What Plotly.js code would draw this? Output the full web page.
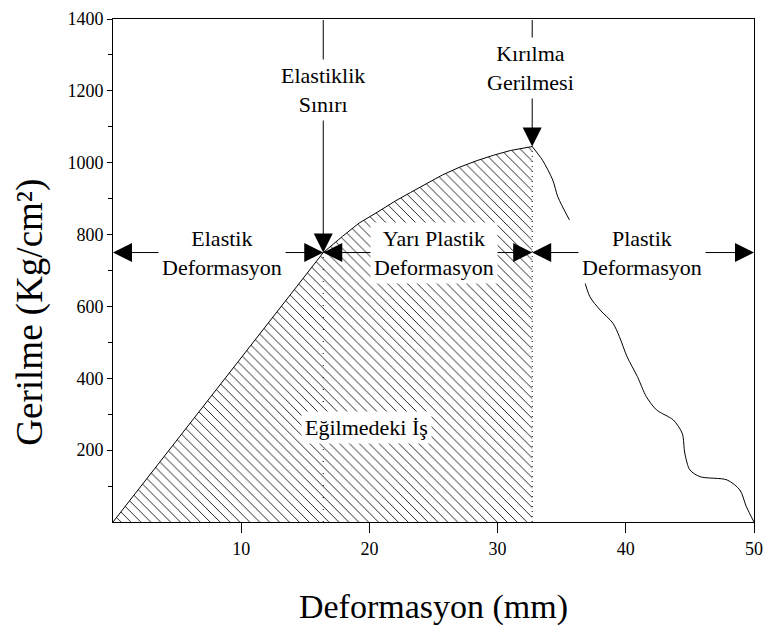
<!DOCTYPE html>
<html><head><meta charset="utf-8">
<script src="https://cdn.plot.ly/plotly-3.0.1.min.js"></script>
<style>html,body{margin:0;padding:0;background:#fff}</style>
</head><body><div id="chart" style="width:769px;height:640px"></div>
<script>
// Loading curve (hatched work area)
const loadStrain = [0, 16.4, 17.9, 19.2, 20.6, 22.0, 23.2, 24.5, 25.7, 27.0, 28.4, 29.7, 31.0, 32.7];
const loadStress = [0, 750, 795, 832, 862, 893, 917, 943, 966, 987, 1006, 1021, 1034, 1045];
// Post-fracture curve (two visible pieces, gap behind label)
const failStrainA = [32.7, 33.5, 34.3, 34.7, 35.6];
const failStressA = [1045, 1007, 952, 905, 841];
const failStrainB = [36.7, 37.2, 38.0, 39.0, 39.5, 40.1, 40.9, 41.6, 42.4, 43.7, 44.4, 44.6, 45.0, 45.8, 47.9, 48.9, 49.4, 50];
const failStressB = [681, 627, 590, 553, 516, 460, 405, 349, 312, 284, 247, 192, 145, 126, 117, 89, 43, 0];
// Key points
const elasticStrain = 16.4, elasticStress = 750;
const breakStrain = 32.7, breakStress = 1045;
const maxStrain = 50, maxStress = 1400;
// Ticks
const xTicks = [10, 20, 30, 40, 50];
const yTicks = [200, 400, 600, 800, 1000, 1200, 1400];
const yMinorTicks = [100, 300, 500, 700, 900, 1100, 1300];

const FONT = 'Liberation Serif, Times New Roman, serif';

const traces = [
  {x: loadStrain, y: loadStress, mode: 'lines', fill: 'tozeroy', fillcolor: 'white',
   fillpattern: {shape: '\\', size: 7, solidity: 0.12, fgcolor: 'black', bgcolor: 'white'},
   line: {color: 'black', width: 1}, hoverinfo: 'skip'},
  {x: [breakStrain, breakStrain], y: [0, breakStress], mode: 'lines',
   line: {color: 'black', width: 1, dash: '1px,4px'}},
  {x: [elasticStrain, elasticStrain], y: [0, elasticStress], mode: 'lines',
   line: {color: 'black', width: 1, dash: '1px,11px'}},
  {x: failStrainA, y: failStressA, mode: 'lines', line: {color: 'black', width: 1, shape: 'spline', smoothing: 0.8}},
  {x: failStrainB, y: failStressB, mode: 'lines', line: {color: 'black', width: 1, shape: 'spline', smoothing: 0.8}}
];

function arrow(hx, hy, tx, ty) {
  return {x: hx, y: hy, ax: tx, ay: ty, xref: 'x', yref: 'y', axref: 'x', ayref: 'y',
    text: ' ', font: {size: 1}, borderpad: 0, showarrow: true, arrowhead: 2, arrowsize: 3.8,
    arrowwidth: 1, arrowcolor: 'black', standoff: 0, startstandoff: 0};
}
function label(x, y, txt) {
  return {x: x, y: y, xref: 'x', yref: 'y', text: txt, showarrow: false,
    font: {family: FONT, size: 22, color: 'black'}, bgcolor: 'white', borderpad: 3,
    xanchor: 'center', yanchor: 'middle'};
}

const midA = elasticStrain / 2, midB = (elasticStrain + breakStrain) / 2, midC = (breakStrain + maxStrain) / 2;
const annotations = [
  arrow(0, elasticStress, midA, elasticStress),
  arrow(elasticStrain, elasticStress, midA, elasticStress),
  arrow(elasticStrain, elasticStress, midB, elasticStress),
  arrow(breakStrain, elasticStress, midB, elasticStress),
  arrow(breakStrain, elasticStress, midC, elasticStress),
  arrow(maxStrain, elasticStress, midC, elasticStress),
  arrow(elasticStrain, elasticStress, elasticStrain, maxStress),
  arrow(breakStrain, breakStress, breakStrain, maxStress),
  label(8.5, elasticStress, 'Elastik<br>Deformasyon'),
  label(25.0, elasticStress, 'Yarı Plastik<br>Deformasyon'),
  label(41.3, elasticStress, 'Plastik<br>Deformasyon'),
  label(elasticStrain, 1202, 'Elastiklik<br>Sınırı'),
  label(32.6, 1264, 'Kırılma<br>Gerilmesi'),
  label(19.8, 262, 'Eğilmedeki İş'),
  {xref: 'paper', yref: 'paper', x: -0.13, y: 0.4175, xanchor: 'center', yanchor: 'middle',
   text: 'Gerilme (Kg/cm²)', textangle: -90, showarrow: false,
   font: {family: FONT, size: 37, color: 'black'}}
];

const layout = {
  width: 769, height: 640,
  margin: {l: 113, r: 15, t: 19, b: 118},
  paper_bgcolor: 'white', plot_bgcolor: 'white',
  showlegend: false,
  font: {family: FONT, color: 'black'},
  xaxis: {range: [0, maxStrain], tickvals: xTicks, ticks: 'outside', ticklen: 10, tickcolor: 'black',
    showline: true, mirror: true, linecolor: 'black', linewidth: 1, showgrid: false, zeroline: false,
    tickfont: {family: FONT, size: 18, color: 'black'},
    title: {text: 'Deformasyon (mm)', font: {family: FONT, size: 34, color: 'black'}, standoff: 36}},
  yaxis: {range: [0, maxStress], tickvals: yTicks, ticks: 'outside', ticklen: 5, tickcolor: 'black',
    minor: {tickvals: yMinorTicks, ticks: 'outside', ticklen: 4, tickcolor: 'black'},
    showline: true, mirror: true, linecolor: 'black', linewidth: 1, showgrid: false, zeroline: false,
    tickfont: {family: FONT, size: 18, color: 'black'}},
  annotations: annotations
};

Plotly.newPlot('chart', traces, layout, {staticPlot: true, displayModeBar: false});
</script></body></html>
